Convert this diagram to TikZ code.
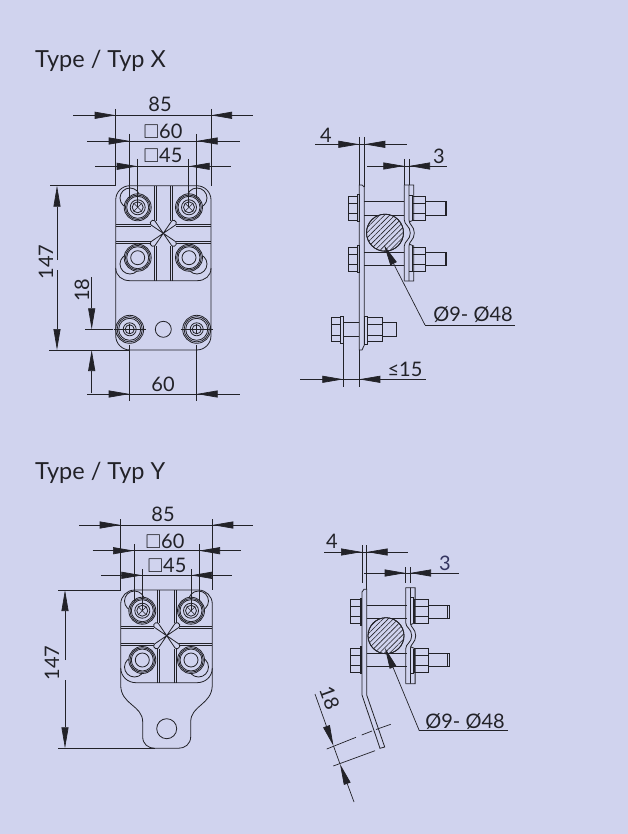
\documentclass[tikz,border=0pt]{standalone}
\usepackage{amssymb}
\usepackage{fontspec}
\setmainfont{Lato}
\usetikzlibrary{arrows.meta,patterns.meta}
\definecolor{bgblue}{RGB}{208,211,238}
\definecolor{inkgrey}{RGB}{34,34,40}
\definecolor{inkblue}{RGB}{52,52,96}
\tikzset{
	part/.style={draw=inkgrey,line width=0.8pt},
	dimline/.style={draw=inkgrey,line width=0.7pt},
	dimtip/.style={dimline,-{Triangle[length=21pt,width=7pt]}},
	dimtext/.style={inner sep=0pt,text=inkgrey,font=\fontsize{20}{22}\selectfont},
	titletext/.style={inner sep=0pt,anchor=base west,text=inkgrey,font=\fontsize{23.5}{26}\selectfont},
	hatched/.style={pattern={Lines[angle=45,distance=3.6pt,line width=0.6pt]},pattern color=inkgrey},
	boltfront/.pic={
		\draw[part,fill=bgblue] (0,0) circle (13.5);
		\draw[part] (0,0) circle (12.3);
		\draw[part] (0,0) circle (11);
		\draw[part] (0,0) circle (7.5);
		\draw[part] (0,0) circle (5.5);
		\draw[dimline,line width=0.5pt] (-4,-4) -- (4,4);
		\draw[dimline,line width=0.5pt] (-4,4) -- (4,-4);
	},
	nutfront/.pic={
		\draw[part,fill=bgblue] (0,0) circle (13.5);
		\draw[part] (0,0) circle (12.3);
		\draw[part] (0,0) circle (11);
		\draw[part] (0,0) circle (7);
	},
	lugbolt/.pic={
		\draw[part] (0,0) circle (14);
		\draw[part] (0,0) circle (12.6);
		\draw[part] (0,0) circle (11);
		\draw[part] (0,0) circle (6.5);
		\draw[part] (0,0) circle (4.5);
		\draw[dimline] (-16,0) -- (16,0);
		\draw[dimline] (0,-5) -- (0,5);
	},
	ribcross/.pic={
		\draw[part,fill=bgblue] (0,0) -- (-12.5,-8.5) -- (-13,-11) -- (-11,-13) -- (-8.5,-12.5) -- cycle;
		\draw[part,fill=bgblue] (0,0) -- (12.5,-8.5) -- (13,-11) -- (11,-13) -- (8.5,-12.5) -- cycle;
		\draw[part,fill=bgblue] (0,0) -- (-12.5,8.5) -- (-13,11) -- (-11,13) -- (-8.5,12.5) -- cycle;
		\draw[part,fill=bgblue] (0,0) -- (12.5,8.5) -- (13,11) -- (11,13) -- (8.5,12.5) -- cycle;
	},
	boltside/.pic={
		\draw[part] (-11,-12) rectangle (-1.8,12);
		\draw[part] (-11,-5) -- (-1.8,-5);
		\draw[part] (-11,5) -- (-1.8,5);
		\draw[part] (-1.8,-13.5) rectangle (0,13.5);
		\draw[part] (5,-6.7) -- (45,-6.7);
		\draw[part] (5,6.7) -- (45,6.7);
		\draw[part] (53,-12) rectangle (66.4,12);
		\draw[part] (53,-5) -- (66.4,-5);
		\draw[part] (53,5) -- (66.4,5);
		\draw[part] (66.4,-6.7) rectangle (87.4,6.7);
		\draw[part] (85.8,-6.7) -- (85.8,6.7);
	},
	clampside/.pic={
		\draw[part] (0,-48) -- (0,-13) .. controls (0,-8) and (6,-7) .. (6,0) .. controls (6,7) and (0,8) .. (0,13) -- (0,48);
		\draw[part] (4.7,-48) -- (4.7,-13) .. controls (4.7,-8) and (10,-7) .. (10,0) .. controls (10,7) and (4.7,8) .. (4.7,13) -- (4.7,48);
		\draw[part] (0,-48) -- (9.4,-48) -- (9.4,-13) -- (4.7,-11);
		\draw[part] (0,48) -- (9.4,48) -- (9.4,13) -- (4.7,11);
		\draw[part] (4.7,-38) -- (8,-38) -- (8,-13);
		\draw[part] (4.7,38) -- (8,38) -- (8,13);
	}
}
\begin{document}
\begin{tikzpicture}[x=1pt,y=-1pt]
	\fill[bgblue] (0,0) rectangle (628,834);
	\useasboundingbox (0,0) rectangle (628,834);
	\node[titletext] (titlex) at (35,68) {Type / Typ X};
	\node[titletext] (titley) at (35,479) {Type / Typ Y};

	% type X, front
	\draw[part] (115.7,200) arc[start angle=180,end angle=270,radius=14.3] -- (196.7,185.7) arc[start angle=270,end angle=360,radius=14.3] -- (211,335.7) arc[start angle=0,end angle=90,radius=14.3] -- (130,350) arc[start angle=90,end angle=180,radius=14.3] -- cycle;
	\draw[part] (115.7,268) .. controls (116,276) and (122,280.7) .. (130,280.7) -- (197,280.7) .. controls (205,280.7) and (211,276) .. (211,268);
	\draw[part] (154,185.7) -- (154,222);
	\draw[part] (156,185.7) -- (156,221);
	\draw[part] (170.7,185.7) -- (170.7,221);
	\draw[part] (172.7,185.7) -- (172.7,222);
	\draw[part] (154,245) -- (154,280.7);
	\draw[part] (156,246) -- (156,280.7);
	\draw[part] (170.7,246) -- (170.7,280.7);
	\draw[part] (172.7,245) -- (172.7,280.7);
	\draw[part] (115.7,224) -- (151,224);
	\draw[part] (115.7,226) -- (151,226);
	\draw[part] (176,224) -- (211,224);
	\draw[part] (176,226) -- (211,226);
	\draw[part] (115.7,241) -- (151,241);
	\draw[part] (115.7,243.3) -- (151,243.3);
	\draw[part] (176,241) -- (211,241);
	\draw[part] (176,243.3) -- (211,243.3);
	\pic at (163.3,233.3) {ribcross};
	\draw[part] (130,198) circle (10);
	\draw[part] (197,198) circle (10);
	\draw[part] (130,264) circle (10);
	\draw[part] (197,264) circle (10);
	\pic at (137.7,207.3) {boltfront};
	\pic at (189,207.3) {boltfront};
	\pic at (137.7,257.7) {nutfront};
	\pic at (189,257.7) {nutfront};
	\pic at (129.7,329.3) {lugbolt};
	\pic at (196.7,329.3) {lugbolt};
	\draw[part] (163.3,329.3) circle (8);

	% type X, front dimensions
	\draw[dimline] (73.3,115.3) -- (253.3,115.3);
	\draw[dimtip] (93,115.3) -- (115.7,115.3);
	\draw[dimtip] (233,115.3) -- (211,115.3);
	\draw[dimline] (115.7,109) -- (115.7,186);
	\draw[dimline] (211,109) -- (211,186);
	\draw[dimline] (87,141) -- (240,141);
	\draw[dimtip] (105,141) -- (129.7,141);
	\draw[dimtip] (220,141) -- (196.7,141);
	\draw[dimline] (129.7,134) -- (129.7,198);
	\draw[dimline] (196.7,134) -- (196.7,198);
	\draw[dimline] (95,166.3) -- (231,166.3);
	\draw[dimtip] (113,166.3) -- (137.7,166.3);
	\draw[dimtip] (211,166.3) -- (188.7,166.3);
	\draw[dimline] (137.7,159) -- (137.7,207.3);
	\draw[dimline] (188.7,159) -- (188.7,207.3);
	\draw[dimline] (50,185.7) -- (116,185.7);
	\draw[dimline] (49,350) -- (130,350);
	\draw[dimtip] (57,260) -- (57,185.7);
	\draw[dimtip] (57,270) -- (57,350);
	\draw[dimline] (85,329.3) -- (113,329.3);
	\draw[dimtip] (91.7,277) -- (91.7,329.3);
	\draw[dimtip] (91.7,393) -- (91.7,350);
	\draw[dimline] (87,394) -- (240,394);
	\draw[dimtip] (105,394) -- (129.7,394);
	\draw[dimtip] (220,394) -- (196.7,394);
	\draw[dimline] (129.7,345) -- (129.7,401);
	\draw[dimline] (196.7,345) -- (196.7,401);
	\node[dimtext] (widthx) at (160,104.5) {85};
	\node[dimtext] (outerx) at (163,131) {$\square$60};
	\node[dimtext] (innerx) at (163,155.5) {$\square$45};
	\node[dimtext,rotate=90] (heightx) at (46,262) {147};
	\node[dimtext,rotate=90] (lugx) at (82,290) {18};
	\node[dimtext] (lugwidthx) at (163,384.5) {60};

	% type X, side
	\draw[part] (359.3,185) -- (362,185) -- (364.3,187) -- (364.3,345) -- (362,350) -- (359.3,350) -- cycle;
	\pic at (359.3,208.3) {boltside};
	\pic at (359.3,259) {boltside};
	\pic at (404.3,233) {clampside};
	\draw[part,fill=bgblue] (385,232.7) circle (18.5);
	\draw[part,hatched] (385,232.7) circle (18.5);
	\draw[part] (331.7,317) rectangle (340.7,341.7);
	\draw[part] (331.7,324) -- (340.7,324);
	\draw[part] (331.7,335) -- (340.7,335);
	\draw[part] (340.7,316) rectangle (343.3,343);
	\draw[part] (343.3,322.7) -- (359.3,322.7);
	\draw[part] (343.3,336) -- (359.3,336);
	\draw[part] (364.3,316.7) rectangle (367.7,344);
	\draw[part] (367.7,317) rectangle (382,341.7);
	\draw[part] (367.7,324) -- (382,324);
	\draw[part] (367.7,335) -- (382,335);
	\draw[part] (382,322.7) rectangle (396.7,336);

	% type X, side dimensions
	\draw[dimline] (315,144.3) -- (407,144.3);
	\draw[dimtip] (338,144.3) -- (359.3,144.3);
	\draw[dimtip] (386,144.3) -- (364.3,144.3);
	\draw[dimline] (359.3,137) -- (359.3,185);
	\draw[dimline] (364.3,137) -- (364.3,187);
	\draw[dimline] (367,166) -- (446.7,166);
	\draw[dimtip] (382,166) -- (404.3,166);
	\draw[dimtip] (430,166) -- (409,166);
	\draw[dimline] (404.3,159) -- (404.3,185);
	\draw[dimline] (409,159) -- (409,185);
	\draw[dimtip] (425,325) -- (384,245);
	\draw[dimline] (425,325) -- (515,325);
	\draw[dimline] (300,379.3) -- (425.7,379.3);
	\draw[dimtip] (321,379.3) -- (343.3,379.3);
	\draw[dimtip] (382,379.3) -- (359.3,379.3);
	\draw[dimline] (343.3,343) -- (343.3,386.7);
	\draw[dimline] (359.3,350) -- (359.3,386.7);
	\node[dimtext] (platex) at (326,135) {4};
	\node[dimtext] (clampx) at (439,156.5) {3};
	\node[dimtext] (diamx) at (473,314.5) {Ø9- Ø48};
	\node[dimtext] (gapx) at (405,369.5) {≤15};

	% type Y, front
	\draw[part] (120.7,604) arc[start angle=180,end angle=270,radius=14] -- (198.3,590) arc[start angle=270,end angle=360,radius=14] -- (212.3,685) .. controls (212,705) and (190.7,705) .. (190.7,722) -- (190.7,736.7) .. controls (190.7,744) and (185,748.3) .. (178.3,748.3) -- (155,748.3) .. controls (148,748.3) and (142.7,744) .. (142.7,736.7) -- (142.7,722) .. controls (142.7,705) and (120.7,705) .. (120.7,685) -- cycle;
	\draw[part] (120.7,668) .. controls (121,677) and (128,682.7) .. (136,682.7) -- (197,682.7) .. controls (205,682.7) and (212.3,677) .. (212.3,668);
	\draw[part] (157,590) -- (157,624);
	\draw[part] (159,590) -- (159,623);
	\draw[part] (174,590) -- (174,623);
	\draw[part] (176,590) -- (176,624);
	\draw[part] (157,648) -- (157,682.7);
	\draw[part] (159,649) -- (159,682.7);
	\draw[part] (174,649) -- (174,682.7);
	\draw[part] (176,648) -- (176,682.7);
	\draw[part] (120.7,626.7) -- (154,626.7);
	\draw[part] (120.7,628.7) -- (154,628.7);
	\draw[part] (179,626.7) -- (212.3,626.7);
	\draw[part] (179,628.7) -- (212.3,628.7);
	\draw[part] (120.7,643) -- (154,643);
	\draw[part] (120.7,645) -- (154,645);
	\draw[part] (179,643) -- (212.3,643);
	\draw[part] (179,645) -- (212.3,645);
	\pic at (166.7,635.7) {ribcross};
	\draw[part] (134.5,601) circle (10);
	\draw[part] (198.5,601) circle (10);
	\draw[part] (134.5,667) circle (10);
	\draw[part] (198.5,667) circle (10);
	\pic at (142.3,610.7) {boltfront};
	\pic at (191,610.7) {boltfront};
	\pic at (142.3,660) {nutfront};
	\pic at (191,660) {nutfront};
	\draw[part] (166.7,728.7) circle (10);

	% type Y, front dimensions
	\draw[dimline] (79.3,525) -- (253.3,525);
	\draw[dimtip] (99,525) -- (120.7,525);
	\draw[dimtip] (234,525) -- (212.3,525);
	\draw[dimline] (120.7,519) -- (120.7,590);
	\draw[dimline] (212.3,519) -- (212.3,590);
	\draw[dimline] (92.7,550.7) -- (240.7,550.7);
	\draw[dimtip] (112,550.7) -- (134,550.7);
	\draw[dimtip] (221,550.7) -- (199,550.7);
	\draw[dimline] (134,544) -- (134,601);
	\draw[dimline] (199,544) -- (199,601);
	\draw[dimline] (101,575.3) -- (232.3,575.3);
	\draw[dimtip] (120.7,575.3) -- (142.3,575.3);
	\draw[dimtip] (212.3,575.3) -- (191,575.3);
	\draw[dimline] (142.3,569) -- (142.3,610.7);
	\draw[dimline] (191,569) -- (191,610.7);
	\draw[dimline] (58,590) -- (121,590);
	\draw[dimline] (58,748.3) -- (155,748.3);
	\draw[dimtip] (65,660) -- (65,590);
	\draw[dimtip] (65,680) -- (65,748.3);
	\node[dimtext] (widthy) at (163,514.5) {85};
	\node[dimtext] (outery) at (165,541.5) {$\square$60};
	\node[dimtext] (innery) at (167,565.5) {$\square$45};
	\node[dimtext,rotate=90] (heighty) at (52,663) {147};

	% type Y, side
	\draw[part] (362,695) -- (362,592) -- (364,589.3) -- (366.7,589.3) -- (366.7,695) -- (384.7,747) -- (380,748.3) -- cycle;
	\pic at (361.7,611.7) {boltside};
	\pic at (361.7,660) {boltside};
	\pic at (405.7,635.7) {clampside};
	\draw[part,fill=bgblue] (386,635.7) circle (18);
	\draw[part,hatched] (386,635.7) circle (18);

	% type Y, side dimensions
	\draw[dimline] (324,552) -- (408,552);
	\draw[dimtip] (341,552) -- (362,552);
	\draw[dimtip] (388,552) -- (366.7,552);
	\draw[dimline] (362,545) -- (362,583);
	\draw[dimline] (366.7,545) -- (366.7,589);
	\draw[dimline] (364,573) -- (459,573);
	\draw[dimtip] (384,573) -- (405.7,573);
	\draw[dimtip] (430,573) -- (410,573);
	\draw[dimline] (405.7,567) -- (405.7,583);
	\draw[dimline] (410,567) -- (410,583);
	\draw[dimtip] (419.3,730.7) -- (385,648);
	\draw[dimline] (419.3,730.7) -- (507.7,730.7);
	\draw[dimtip] (315,694) -- (333.5,746);
	\draw[dimtip] (354,802) -- (340,764);
	\draw[dimline] (333.5,746) -- (340,764);
	\draw[dimline] (326.7,749) -- (356,737.3);
	\draw[dimline] (361.7,735) -- (372,731);
	\draw[dimline] (376,729.5) -- (390.7,724.3);
	\draw[dimline] (333.3,766) -- (375,750.7);
	\node[dimtext] (platey) at (332,541.5) {4};
	\node[dimtext,text=inkblue] (clampy) at (445,563) {3};
	\node[dimtext] (diamy) at (465,721.2) {Ø9- Ø48};
	\node[dimtext,rotate=-70] (benty) at (329.5,698) {18};
\end{tikzpicture}
\end{document}
